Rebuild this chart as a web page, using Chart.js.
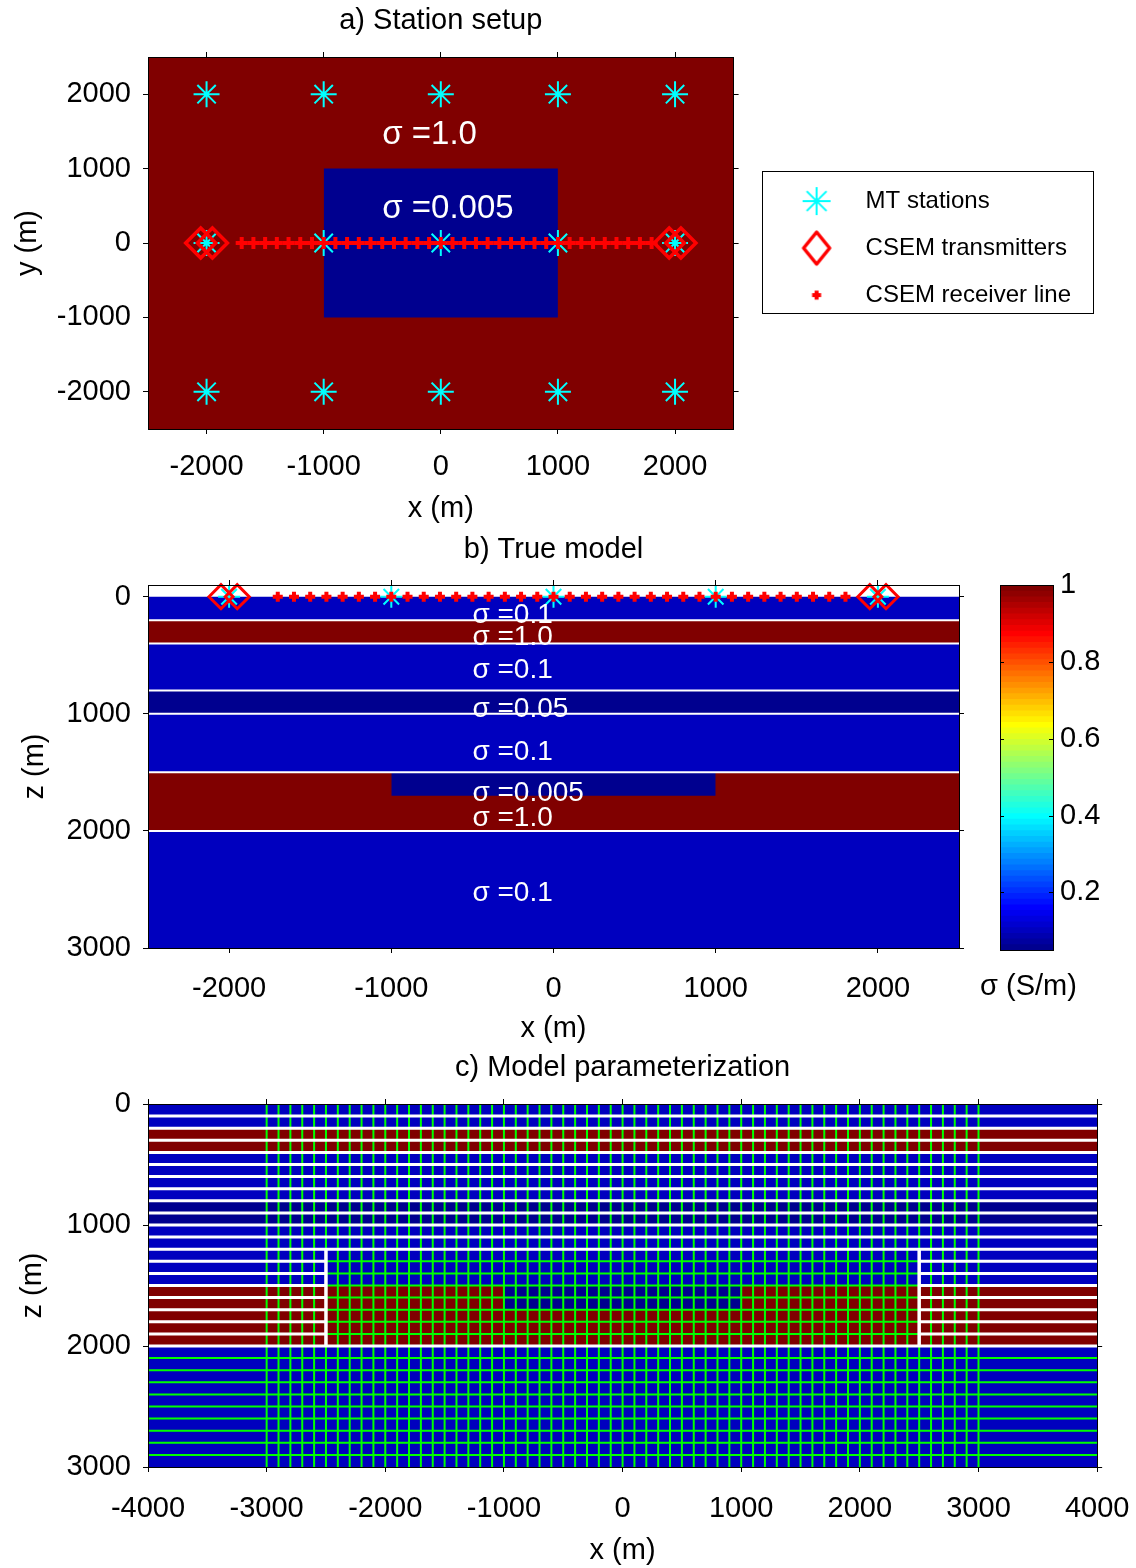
<!DOCTYPE html>
<html><head><meta charset="utf-8">
<script src="https://cdn.jsdelivr.net/npm/chart.js@4.4.1/dist/chart.umd.min.js"></script>
<style>
html,body{margin:0;padding:0;background:#fff;}
body{width:1136px;height:1568px;position:relative;overflow:hidden;}
canvas{position:absolute;}
</style></head><body>
<canvas id="ca" width="1096" height="529" style="left:0;top:0"></canvas>
<canvas id="cb" width="974" height="518" style="left:0;top:530px"></canvas>
<canvas id="cbar" width="166" height="518" style="left:970px;top:530px"></canvas>
<canvas id="cc" width="1149" height="520" style="left:0;top:1048px"></canvas>
<script>
// ---------------- data ----------------
// panel a
const xLimA = [-2500, 2500];
const yLimA = [-2500, 2500];
const xTicksA = [-2000, -1000, 0, 1000, 2000];
const yTicksA = [-2000, -1000, 0, 1000, 2000];
const stationX = [-2000, -1000, 0, 1000, 2000];
const stationY = [2000, 0, -2000];
const transmitterX = [-2050, -1950, 1950, 2050];
const receiverX = [-1700, -1600, -1500, -1400, -1300, -1200, -1100, -1000, -900, -800, -700, -600,
  -500, -400, -300, -200, -100, 0, 100, 200, 300, 400, 500, 600, 700, 800, 900, 1000, 1100, 1200,
  1300, 1400, 1500, 1600, 1700, 1800];
const bgSigmaA = 1.0;
const blockAX = [-1000, 1000];
const blockAY = [-1000, 1000];
const blockASigma = 0.005;
const textA = ['σ =1.0', 'σ =0.005'];
const textAX = [-500, -500];
const textAY = [1450, 460];
const legendNames = ['MT stations', 'CSEM transmitters', 'CSEM receiver line'];

// panel b
const xLimB = [-2500, 2500];
const zLimB = [-100, 3000];
const xTicksB = [-2000, -1000, 0, 1000, 2000];
const zTicks = [0, 1000, 2000, 3000];
const layerTop = [0, 200, 400, 800, 1000, 1500, 2000];
const layerBottom = [200, 400, 800, 1000, 1500, 2000, 3000];
const layerSigma = [0.1, 1.0, 0.1, 0.05, 0.1, 1.0, 0.1];
const bodyX = [-1000, 1000];
const bodyZ = [1500, 1700];
const bodySigma = 0.005;
const textB = ['σ =0.1', 'σ =1.0', 'σ =0.1', 'σ =0.05', 'σ =0.1', 'σ =0.005', 'σ =1.0', 'σ =0.1'];
const textBX = [-500, -500, -500, -500, -500, -500, -500, -500];
const textBZ = [160, 350, 630, 960, 1330, 1680, 1890, 2530];

// colour bar
const cLim = [0.05, 1];
const cbTicks = [0.2, 0.4, 0.6, 0.8, 1];
const cbLabelText = 'σ (S/m)';

// panel c
const xLimC = [-4000, 4000];
const zLimC = [0, 3000];
const xTicksC = [-4000, -3000, -2000, -1000, 0, 1000, 2000, 3000, 4000];
const cWhiteFullZ = [100, 200, 300, 400, 500, 600, 700, 800, 900, 1000, 1100, 1200, 2000];
const cWhiteSideZ = [1300, 1400, 1500, 1600, 1700, 1800, 1900];
const cSideLeftX = [-4000, -2500];
const cSideRightX = [2500, 4000];
const cBoxX = [-2500, 2500];
const cBoxZ = [1200, 2000];
const cGreenInnerZ = [1300, 1400, 1500, 1600, 1700, 1800, 1900];
const cGreenFullZ = [2100, 2200, 2300, 2400, 2500, 2600, 2700, 2800, 2900];
const cGreenV = [-3000, -2900, -2800, -2700, -2600, -2500, -2400, -2300, -2200, -2100, -2000,
  -1900, -1800, -1700, -1600, -1500, -1400, -1300, -1200, -1100, -1000, -900, -800, -700, -600,
  -500, -400, -300, -200, -100, 0, 100, 200, 300, 400, 500, 600, 700, 800, 900, 1000, 1100, 1200,
  1300, 1400, 1500, 1600, 1700, 1800, 1900, 2000, 2100, 2200, 2300, 2400, 2500, 2600, 2700, 2800,
  2900, 3000];

// ---------------- helpers ----------------
Chart.defaults.font.family = "'Liberation Sans', Arial, Helvetica, sans-serif";
Chart.defaults.color = '#000';

function jetMap(m) {
  const n = Math.ceil(m / 4);
  const u = [];
  for (let i = 1; i <= n; i++) u.push(i / n);
  for (let i = 1; i < n; i++) u.push(1);
  for (let i = n; i >= 1; i--) u.push(i / n);
  const J = Array.from({length: m}, () => [0, 0, 0]);
  const g0 = Math.ceil(n / 2) - (m % 4 === 1 ? 1 : 0);
  for (let k = 0; k < u.length; k++) {
    const g = g0 + k + 1, r = g + n, b = g - n;
    if (r >= 1 && r <= m) J[r - 1][0] = u[k];
    if (g >= 1 && g <= m) J[g - 1][1] = u[k];
    if (b >= 1 && b <= m) J[b - 1][2] = u[k];
  }
  return J.map(c => 'rgb(' + c.map(v => Math.round(v * 255)).join(',') + ')');
}
const JET = jetMap(64);
function colorFor(s) {
  let i = Math.floor((s - cLim[0]) / (cLim[1] - cLim[0]) * 64);
  i = Math.max(0, Math.min(63, i));
  return JET[i];
}
function rectDS(x0, x1, y0, y1, color, order) {
  return {type: 'line', data: [{x: x0, y: y1}, {x: x1, y: y1}], fill: {value: y0},
    backgroundColor: color, borderColor: 'rgba(0,0,0,0)', borderWidth: 0, pointRadius: 0,
    showLine: true, tension: 0, order: order};
}
function segDS(segs, color, width, order) {
  const data = [];
  segs.forEach(s => { data.push({x: s[0], y: s[1]}, {x: s[2], y: s[3]}, {x: null, y: null}); });
  return {type: 'line', data: data, borderColor: color, borderWidth: width, pointRadius: 0,
    fill: false, showLine: true, spanGaps: false, tension: 0, order: order, borderCapStyle: 'butt'};
}
function axis(pos, lim, ticks, o) {
  const horiz = (pos === 'top' || pos === 'bottom');
  return {
    type: 'linear', position: pos, min: lim[0], max: lim[1], reverse: !!o.reverse,
    afterBuildTicks: a => { a.ticks = ticks.map(v => ({value: v})); },
    afterFit: a => { if (horiz) a.height = o.size; else a.width = o.size; },
    ticks: {display: !!o.labels, font: {size: 29}, color: '#000', padding: (o.tickPad !== undefined ? o.tickPad : 12),
      callback: v => String(v), maxRotation: 0, autoSkip: false},
    grid: {display: o.grid !== false, drawOnChartArea: false, drawTicks: o.drawTicks !== false, tickLength: 5, color: '#000', lineWidth: 1},
    border: {display: true, color: '#000', width: 1, z: 1},
    title: o.title ? {display: true, text: o.title, font: {size: 29}, color: '#000', padding: o.titlePad} : {display: false}
  };
}
const textPlugin = {
  id: 'sigmaText',
  afterDatasetsDraw(chart, args, opts) {
    if (!opts || !opts.labels) return;
    const ctx = chart.ctx, xs = chart.scales.x, ys = chart.scales.y;
    ctx.save();
    ctx.font = opts.font;
    ctx.fillStyle = '#ffffff';
    ctx.textAlign = 'left';
    ctx.textBaseline = 'middle';
    opts.labels.forEach((t, i) => ctx.fillText(t, xs.getPixelForValue(opts.xs[i]), ys.getPixelForValue(opts.ys[i])));
    ctx.restore();
  }
};
const legendBox = {
  id: 'legendBox',
  afterDraw(chart) {
    const lg = chart.legend;
    if (!lg || !lg.legendHitBoxes || !lg.legendHitBoxes.length) return;
    const hb = lg.legendHitBoxes, ctx = chart.ctx;
    const x0 = Math.round(lg.left + 5) + 0.5, x1 = chart.width - 2.5;
    const y0 = Math.round(hb[0].top - 18) + 0.5;
    const last = hb[hb.length - 1];
    const y1 = Math.round(last.top + last.height + 6) + 0.5;
    ctx.save(); ctx.strokeStyle = '#000'; ctx.lineWidth = 1;
    ctx.strokeRect(x0, y0, x1 - x0, y1 - y0); ctx.restore();
  }
};
const cbLabel = {
  id: 'cbLabel',
  afterDraw(chart, args, opts) {
    const ca = chart.chartArea, ctx = chart.ctx;
    ctx.save();
    ctx.font = "29px 'Liberation Sans', Arial, sans-serif";
    ctx.fillStyle = '#000'; ctx.textAlign = 'center'; ctx.textBaseline = 'middle';
    ctx.fillText(opts.text, (ca.left + ca.right) / 2 + 2, ca.bottom + 37);
    // inward tick marks of the colour bar at the tick values of its axis
    const ys = chart.scales.y;
    ctx.strokeStyle = '#000'; ctx.lineWidth = 1;
    ys.ticks.forEach(t => {
      const py = Math.round(ys.getPixelForValue(t.value)) + 0.5;
      if (py <= ca.top + 1) return;
      ctx.beginPath();
      ctx.moveTo(ca.left, py); ctx.lineTo(ca.left + 4, py);
      ctx.moveTo(ca.right - 4, py); ctx.lineTo(ca.right, py);
      ctx.stroke();
    });
    ctx.restore();
  }
};
function icon(w, h, draw) {
  const c = document.createElement('canvas'); c.width = w; c.height = h;
  draw(c.getContext('2d'), w / 2, h / 2); return c;
}
const iconStar = icon(32, 32, (g, cx, cy) => {
  g.strokeStyle = '#00ffff'; g.lineWidth = 2; const r = 14;
  for (let k = 0; k < 4; k++) { const a = k * Math.PI / 4; g.beginPath();
    g.moveTo(cx - r * Math.cos(a), cy - r * Math.sin(a)); g.lineTo(cx + r * Math.cos(a), cy + r * Math.sin(a)); g.stroke(); }
});
const iconDiamond = icon(34, 40, (g, cx, cy) => {
  g.strokeStyle = '#ff0000'; g.lineWidth = 3.5; g.lineJoin = 'round'; g.beginPath();
  g.moveTo(cx - 13, cy); g.lineTo(cx, cy - 16); g.lineTo(cx + 13, cy); g.lineTo(cx, cy + 16); g.closePath(); g.stroke();
});
const iconDot = icon(14, 14, (g, cx, cy) => {
  g.strokeStyle = '#ff0000'; g.lineWidth = 4; g.beginPath();
  g.moveTo(cx - 4.5, cy); g.lineTo(cx + 4.5, cy); g.moveTo(cx, cy - 4.5); g.lineTo(cx, cy + 4.5); g.stroke();
});
const legendIcons = [iconStar, iconDiamond, iconDot];
const common = {responsive: false, animation: false, devicePixelRatio: 1, events: []};

// ---------------- panel a ----------------
const stationPts = [];
stationY.forEach(y => stationX.forEach(x => stationPts.push({x: x, y: y})));
new Chart(document.getElementById('ca'), {
  type: 'scatter',
  data: {datasets: [
    {label: legendNames[2], data: receiverX.map(x => ({x: x, y: 0})), pointStyle: 'cross', pointRadius: 6,
      pointBorderWidth: 4, pointBorderColor: '#ff0000', pointBackgroundColor: '#ff0000', order: 0},
    {label: legendNames[1], data: transmitterX.map(x => ({x: x, y: 0})), pointStyle: 'rectRot', pointRadius: 15,
      pointBorderWidth: 3.5, pointBorderColor: '#ff0000', pointBackgroundColor: 'rgba(0,0,0,0)', order: 1},
    {label: legendNames[0], data: stationPts, pointStyle: 'star', pointRadius: 13,
      pointBorderWidth: 2, pointBorderColor: '#00ffff', pointBackgroundColor: '#00ffff', order: 2},
    rectDS(blockAX[0], blockAX[1], blockAY[0], blockAY[1], colorFor(blockASigma), 5),
    rectDS(xLimA[0], xLimA[1], yLimA[0], yLimA[1], colorFor(bgSigmaA), 6)
  ]},
  options: Object.assign({}, common, {
    layout: {padding: {left: 0, top: 0, bottom: 0, right: 15}},
    scales: {
      x: axis('bottom', xLimA, xTicksA, {size: 100, labels: true, tickPad: 15.6, title: 'x (m)', titlePad: {top: 0, bottom: 2.6}}),
      x2: axis('top', xLimA, xTicksA, {size: 57, title: 'a) Station setup', titlePad: {top: 3.6, bottom: 0}}),
      y: axis('left', yLimA, yTicksA, {size: 148, labels: true, tickPad: 12, title: 'y (m)', titlePad: {top: 10.6, bottom: 0}}),
      y2: axis('right', yLimA, yTicksA, {size: 23})
    },
    plugins: {
      tooltip: {enabled: false},
      legend: {
        position: 'right', fullSize: false, maxWidth: 420,
        title: {display: true, text: '', font: {size: 1}, padding: {top: 5, bottom: 4}},
        labels: {usePointStyle: true, pointStyleWidth: 74, padding: 23, font: {size: 24}, color: '#000',
          generateLabels: () => legendNames.map((t, i) => ({text: t, pointStyle: legendIcons[i], fillStyle: 'rgba(0,0,0,0)',
            strokeStyle: 'rgba(0,0,0,0)', lineWidth: 0, hidden: false, datasetIndex: 2 - i, fontColor: '#000'}))}
      },
      sigmaText: {labels: textA, xs: textAX, ys: textAY, font: "33px 'Liberation Sans', Arial, sans-serif"}
    }
  }),
  plugins: [textPlugin, legendBox]
});

// ---------------- panel b ----------------
const layerDSb = layerTop.map((t, i) => rectDS(xLimB[0], xLimB[1], t, layerBottom[i], colorFor(layerSigma[i]), 6));
const bLines = layerTop.filter(t => t > 0).map(z => [xLimB[0], z, xLimB[1], z]);
new Chart(document.getElementById('cb'), {
  type: 'scatter',
  data: {datasets: [
    {data: receiverX.map(x => ({x: x, y: 0})), pointStyle: 'cross', pointRadius: 5, pointBorderWidth: 4,
      pointBorderColor: '#ff0000', pointBackgroundColor: '#ff0000', order: 0, clip: false},
    {data: transmitterX.map(x => ({x: x, y: 0})), pointStyle: 'rectRot', pointRadius: 12, pointBorderWidth: 3,
      pointBorderColor: '#ff0000', pointBackgroundColor: 'rgba(0,0,0,0)', order: 1, clip: false},
    {data: stationX.map(x => ({x: x, y: 0})), pointStyle: 'star', pointRadius: 11, pointBorderWidth: 2,
      pointBorderColor: '#00ffff', pointBackgroundColor: '#00ffff', order: 2, clip: false},
    segDS(bLines, '#ffffff', 2, 3),
    rectDS(bodyX[0], bodyX[1], bodyZ[0], bodyZ[1], colorFor(bodySigma), 5)
  ].concat(layerDSb)},
  options: Object.assign({}, common, {
    scales: {
      x: axis('bottom', xLimB, xTicksB, {size: 100, labels: true, tickPad: 18.6, title: 'x (m)', titlePad: {top: 0, bottom: 1.6}}),
      x2: axis('top', xLimB, xTicksB, {size: 55, title: 'b) True model', titlePad: {top: 2.6, bottom: 0}}),
      y: axis('left', zLimB, zTicks, {size: 148, labels: true, reverse: true, tickPad: 12, title: 'z (m)', titlePad: {top: 17.6, bottom: 0}}),
      y2: axis('right', zLimB, zTicks, {size: 10, reverse: true})
    },
    plugins: {
      tooltip: {enabled: false}, legend: {display: false},
      sigmaText: {labels: textB, xs: textBX, ys: textBZ, font: "28px 'Liberation Sans', Arial, sans-serif"}
    }
  }),
  plugins: [textPlugin]
});

// ---------------- colour bar ----------------
const cbDS = JET.map((c, i) => {
  const d = (cLim[1] - cLim[0]) / 64;
  const lo = cLim[0] + i * d, hi = cLim[0] + (i + 1) * d + (i < 63 ? d * 0.15 : 0);
  return rectDS(0, 1, lo, hi, c, 100 - i);
});
new Chart(document.getElementById('cbar'), {
  type: 'scatter',
  data: {datasets: cbDS},
  options: Object.assign({}, common, {
    scales: {
      x: axis('bottom', [0, 1], [0.5], {size: 98, grid: false, drawTicks: false}),
      x2: axis('top', [0, 1], [0.5], {size: 55, grid: false, drawTicks: false}),
      yl: axis('left', cLim, cbTicks, {size: 30, grid: false, drawTicks: false}),
      y: axis('right', cLim, cbTicks, {size: 83, labels: true, drawTicks: false, tickPad: 7})
    },
    plugins: {tooltip: {enabled: false}, legend: {display: false}, cbLabel: {text: cbLabelText}}
  }),
  plugins: [cbLabel]
});

// ---------------- panel c ----------------
const layerDSc = layerTop.map((t, i) => rectDS(xLimC[0], xLimC[1], t, layerBottom[i], colorFor(layerSigma[i]), 6));
const cWhiteH = cWhiteFullZ.map(z => [xLimC[0], z, xLimC[1], z])
  .concat(cWhiteSideZ.map(z => [cSideLeftX[0], z, cSideLeftX[1], z]))
  .concat(cWhiteSideZ.map(z => [cSideRightX[0], z, cSideRightX[1], z]));
const cWhiteV = cBoxX.map(x => [x, cBoxZ[0], x, cBoxZ[1]]);
const cGreenH = cGreenInnerZ.map(z => [cBoxX[0], z, cBoxX[1], z])
  .concat(cGreenFullZ.map(z => [xLimC[0], z, xLimC[1], z]));
const cGreenVs = cGreenV.map(x => [x, zLimC[0], x, zLimC[1]]);
new Chart(document.getElementById('cc'), {
  type: 'scatter',
  data: {datasets: [
    segDS(cWhiteV, '#ffffff', 3.5, 1),
    segDS(cWhiteH, '#ffffff', 3, 2),
    segDS(cGreenH, '#00ff00', 2, 3),
    segDS(cGreenVs, '#00ff00', 2, 4),
    rectDS(bodyX[0], bodyX[1], bodyZ[0], bodyZ[1], colorFor(bodySigma), 5)
  ].concat(layerDSc)},
  options: Object.assign({}, common, {
    scales: {
      x: axis('bottom', xLimC, xTicksC, {size: 101, labels: true, tickPad: 19.6, title: 'x (m)', titlePad: {top: 0, bottom: 0}}),
      x2: axis('top', xLimC, xTicksC, {size: 56, title: 'c) Model parameterization', titlePad: {top: 2.6, bottom: 0}}),
      y: axis('left', zLimC, zTicks, {size: 148, labels: true, reverse: true, tickPad: 12, title: 'z (m)', titlePad: {top: 15.6, bottom: 0}}),
      y2: axis('right', zLimC, zTicks, {size: 37, reverse: true})
    },
    plugins: {tooltip: {enabled: false}, legend: {display: false}}
  })
});
</script>
</body></html>
